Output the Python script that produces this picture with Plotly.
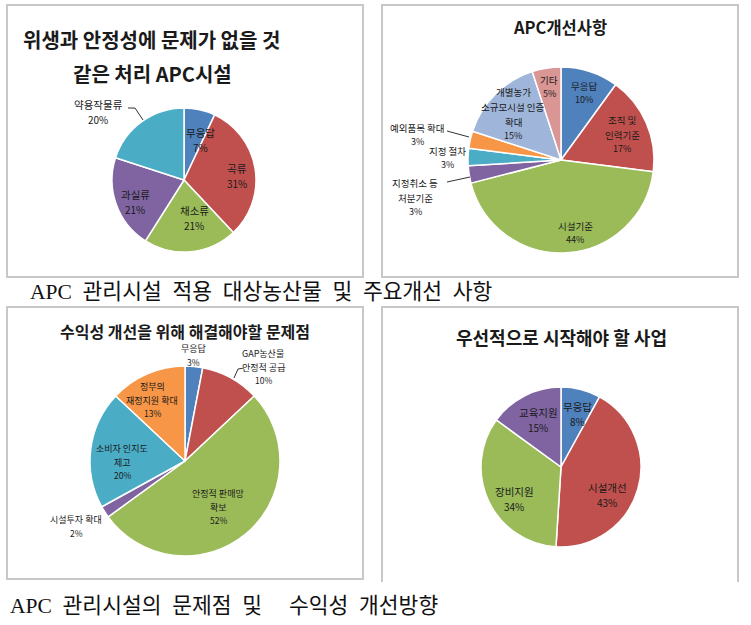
import plotly.graph_objects as go

W, H = 751, 625

# ---------------- data ----------------
p1_labels = ["무응답", "곡류", "채소류", "과실류", "약용작물류"]
p1_values = [7, 31, 21, 21, 20]

p2_labels = ["무응답", "조직 및<br>인력기준", "시설기준", "지정취소 등<br>처분기준", "지정 절차",
             "예외품목 확대", "개별농가<br>소규모시설 인증<br>확대", "기타"]
p2_values = [10, 17, 44, 3, 3, 3, 15, 5]

p3_labels = ["무응답", "GAP농산물<br>안정적 공급", "안정적 판매망<br>확보", "시설투자 확대",
             "소비자 인지도<br>제고", "정부의<br>재정지원 확대"]
p3_values = [3, 10, 52, 2, 20, 13]

p4_labels = ["무응답", "시설개선", "장비지원", "교육지원"]
p4_values = [8, 43, 34, 15]

titles = [["위생과 안정성에 문제가 없을 것", "같은 처리 APC시설"],
          ["APC개선사항"],
          ["수익성 개선을 위해 해결해야할 문제점"],
          ["우선적으로 시작해야 할 사업"]]
caption_words = [["APC", "관리시설", "적용", "대상농산물", "및", "주요개선", "사항"],
                 ["APC", "관리시설의", "문제점", "및", "수익성", "개선방향"]]

# ---------------- style ----------------
BLUE, RED, GREEN, PURPLE, AQUA, ORANGE = "#4F81BD", "#C0504D", "#9BBB59", "#8064A2", "#4BACC6", "#F79646"
LBLUE, PINK = "#9FB6DA", "#D99694"
p1_colors = [BLUE, RED, GREEN, PURPLE, AQUA]
p2_colors = [BLUE, RED, GREEN, PURPLE, AQUA, ORANGE, LBLUE, PINK]
p3_colors = [BLUE, RED, GREEN, PURPLE, AQUA, ORANGE]
p4_colors = [BLUE, RED, GREEN, PURPLE]

KR = "Noto Sans CJK KR"
TXT = "#1a1a1a"


def X(x):
    return x / W


def Y(y):
    return 1 - y / H


def dom(cx, cy, r):
    return dict(x=[X(cx - r), X(cx + r)], y=[Y(cy + r), Y(cy - r)])


fig = go.Figure()

pies = [
    (p1_labels, p1_values, p1_colors, (184, 180, 72)),
    (p2_labels, p2_values, p2_colors, (561, 160, 93)),
    (p3_labels, p3_values, p3_colors, (185, 461, 95)),
    (p4_labels, p4_values, p4_colors, (561, 467, 80)),
]
for labs, vals, cols, (cx, cy, r) in pies:
    fig.add_trace(go.Pie(
        labels=[l.replace("<br>", " ") for l in labs], values=vals,
        sort=False, direction="clockwise", rotation=0,
        marker=dict(colors=cols, line=dict(color="white", width=1.5)),
        textinfo="none", hoverinfo="label+percent",
        domain=dom(cx, cy, r), showlegend=False,
    ))

annotations = []
shapes = []


def text(x, y, s, size, bold=False, family=KR, color=TXT, anchor="center"):
    annotations.append(dict(
        x=X(x), y=Y(y), xref="paper", yref="paper", showarrow=False,
        text=f"<b>{s}</b>" if bold else s, xanchor=anchor, yanchor="middle",
        font=dict(family=family, size=size, color=color),
    ))


# label block centres (x, y) per slice
pos1 = [(200, 140), (237, 176), (194, 218), (135, 202), (98, 112)]
pos2 = [(584, 93), (622, 134), (575, 233), (415, 197), (447, 158),
        (417, 135), (513, 114), (549, 87)]
pos3 = [(193, 355), (263, 367), (218, 507), (76, 526), (122, 462), (152, 400)]
pos4 = [(577, 414), (607, 495), (514, 499), (538, 420)]

for labs, vals, pos, nsize, psize, gn, gp in [
    (p1_labels, p1_values, pos1, 10.5, 10, 15, 15),
    (p2_labels, p2_values, pos2, 9.5, 9, 15, 13.6),
    (p3_labels, p3_values, pos3, 9, 8.5, 13.5, 13),
    (p4_labels, p4_values, pos4, 10.5, 10, 15.5, 15.5),
]:
    tot = sum(vals)
    for lab, v, (x, y) in zip(labs, vals, pos):
        names = lab.split("<br>")
        pct = f"{round(100 * v / tot)}%"
        span = (len(names) - 1) * gn + gp
        y0 = y - span / 2
        for i, nm in enumerate(names):
            text(x, y0 + i * gn, nm, nsize)
        text(x, y0 + (len(names) - 1) * gn + gp, pct, psize)

# leader lines
leaders = [
    [(128, 108), (135, 108), (143, 120)],
    [(447, 131), (469, 137)],
    [(447, 182), (470, 177)],
    [(244, 368), (238, 369), (234, 378)],
]
for pts in leaders:
    d = "M " + " L ".join(f"{X(a)},{Y(b)}" for a, b in pts)
    shapes.append(dict(type="path", path=d, xref="paper", yref="paper",
                       line=dict(color="#333333", width=1)))

# titles
text(151, 39, titles[0][0], 20, bold=True)
text(152, 73, titles[0][1], 20, bold=True)
text(560, 27, titles[1][0], 16.5, bold=True)
text(185, 331, titles[2][0], 16, bold=True)
text(561, 337, titles[3][0], 18, bold=True)

# captions
CAP = "Liberation Serif, " + KR
SP = "\u00a0\u00a0"
cap1 = SP.join(caption_words[0])
w2 = caption_words[1]
cap2 = SP.join(w2[:4]) + "\u00a0" * 5 + SP.join(w2[4:])
text(28, 292, cap1, 21.5, family=CAP, color="#111", anchor="left")
text(8, 606, cap2, 21.5, family=CAP, color="#111", anchor="left")

# panel frames
BORDER = dict(color="#C8C8C8", width=2)
for (x0, y0, x1, y1) in [(7, 5, 363, 277), (382, 5, 738, 277), (7, 307, 363, 579)]:
    shapes.append(dict(type="rect", xref="paper", yref="paper",
                       x0=X(x0), x1=X(x1), y0=Y(y1), y1=Y(y0), line=BORDER))
d = f"M {X(382)},{Y(582)} L {X(382)},{Y(307)} L {X(738)},{Y(307)} L {X(738)},{Y(582)}"
shapes.append(dict(type="path", path=d, xref="paper", yref="paper", line=BORDER))

fig.update_layout(
    width=W, height=H, margin=dict(l=0, r=0, t=0, b=0),
    paper_bgcolor="white", plot_bgcolor="white",
    annotations=annotations, shapes=shapes, showlegend=False,
)
fig.write_html("out.html")
